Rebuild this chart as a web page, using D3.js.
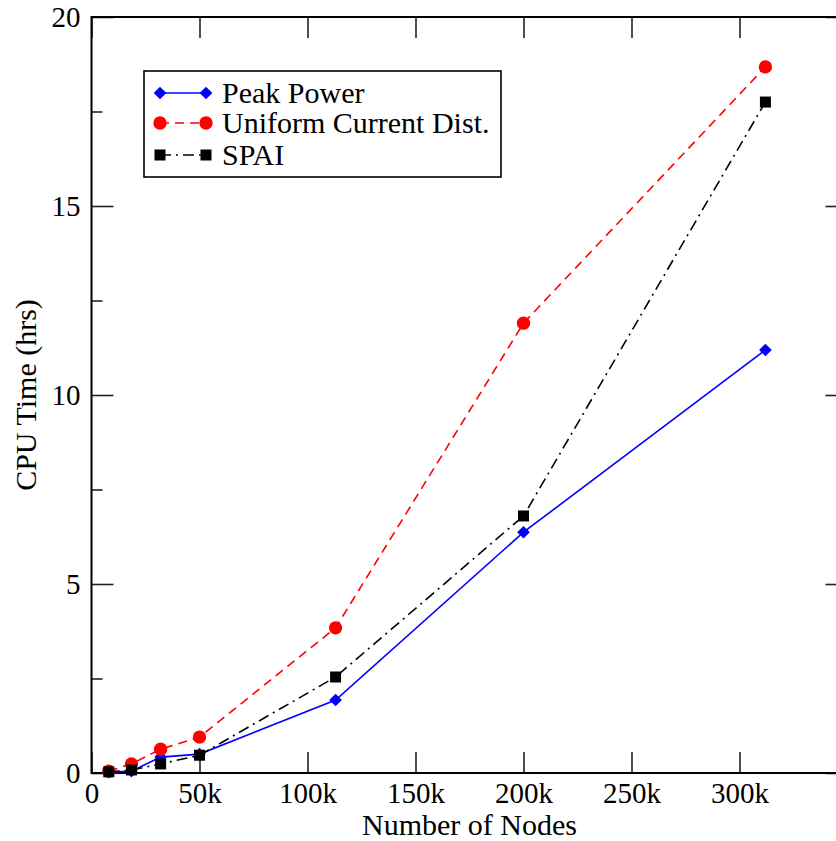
<!DOCTYPE html>
<html>
<head>
<script src="https://cdn.jsdelivr.net/npm/d3@7"></script>
</head>
<body style="margin:0">
<svg id="chart" width="836" height="841"></svg>
<script>
// data
var nodes = [8000, 18500, 32000, 50000, 113000, 200000, 312000];
var peakPower = [0.02, 0.05, 0.42, 0.50, 1.93, 6.37, 11.19];
var uniformCurrent = [0.05, 0.24, 0.63, 0.95, 3.84, 11.9, 18.68];
var spai = [0.03, 0.08, 0.24, 0.47, 2.54, 6.80, 17.75];

var xTicks = [0, 50000, 100000, 150000, 200000, 250000, 300000];
var yTicks = [0, 5, 10, 15, 20];
var yMinorTicks = [2.5, 7.5, 12.5, 17.5];
var seriesNames = ["Peak Power", "Uniform Current Dist.", "SPAI"];

var svg = d3.select("#chart");

// plot box: 0..350k across, 0..20 up (right edge falls just outside the window)
var x = d3.scaleLinear().domain([0, 350000]).range([91.5, 847.5]);
var y = d3.scaleLinear().domain([0, 20]).range([773, 17]);

var kfmt = function (d) { return d === 0 ? "0" : (d / 1000) + "k"; };
var noDomain = function (g) { g.select(".domain").remove(); };

// ticks pointing inward on all four sides
svg.append("g").attr("transform", "translate(0," + y(0) + ")")
  .call(d3.axisBottom(x).tickValues(xTicks).tickFormat(kfmt).tickSize(-21).tickPadding(9))
  .call(noDomain);
svg.append("g").attr("transform", "translate(0," + y(20) + ")")
  .call(d3.axisTop(x).tickValues(xTicks).tickFormat("").tickSize(-21))
  .call(noDomain);
svg.append("g").attr("transform", "translate(" + x(0) + ",0)")
  .call(d3.axisLeft(y).tickValues(yTicks).tickSize(-22).tickPadding(11))
  .call(noDomain);
svg.append("g").attr("transform", "translate(" + x(0) + ",0)")
  .call(d3.axisLeft(y).tickValues(yMinorTicks).tickFormat("").tickSize(-11))
  .call(noDomain);
svg.append("g").attr("transform", "translate(" + x(350000) + ",0)")
  .call(d3.axisRight(y).tickValues(yTicks).tickFormat("").tickSize(-22))
  .call(noDomain);
svg.append("g").attr("transform", "translate(" + x(350000) + ",0)")
  .call(d3.axisRight(y).tickValues(yMinorTicks).tickFormat("").tickSize(-11))
  .call(noDomain);

svg.selectAll(".tick line").attr("stroke", "#222").attr("stroke-width", 1.6);
svg.selectAll(".tick text").style("font-size", "29px");

// frame
svg.append("rect")
  .attr("x", x(0)).attr("y", y(20))
  .attr("width", x(350000) - x(0)).attr("height", y(0) - y(20))
  .attr("fill", "none").attr("stroke", "#000").attr("stroke-width", 2);

// axis titles
svg.append("text").attr("class", "title").attr("x", (x(0) + x(350000)) / 2).attr("y", 835)
  .attr("text-anchor", "middle").text("Number of Nodes");
svg.append("text").attr("class", "title")
  .attr("transform", "translate(36," + ((y(0) + y(20)) / 2) + ") rotate(-90)")
  .attr("text-anchor", "middle").text("CPU Time (hrs)");

// rotated square for the Peak Power marker
var diamond = {
  draw: function (ctx, size) {
    var r = Math.sqrt(size / 2);
    ctx.moveTo(0, -r); ctx.lineTo(r, 0); ctx.lineTo(0, r); ctx.lineTo(-r, 0); ctx.closePath();
  }
};

var series = [
  { name: seriesNames[0], values: peakPower, color: "#0000ff", dash: null, marker: diamond, size: 80 },
  { name: seriesNames[1], values: uniformCurrent, color: "#ff0000", dash: "9,6", marker: d3.symbolCircle, size: 140 },
  { name: seriesNames[2], values: spai, color: "#000000", dash: "11,5,2,5", marker: d3.symbolSquare, size: 121 }
];

var line = d3.line().x(function (d) { return x(d[0]); }).y(function (d) { return y(d[1]); });

series.forEach(function (s) {
  var pts = nodes.map(function (n, i) { return [n, s.values[i]]; });
  svg.append("path").datum(pts)
    .attr("d", line).attr("fill", "none")
    .attr("stroke", s.color).attr("stroke-width", 1.6)
    .attr("stroke-dasharray", s.dash);
  svg.append("g").selectAll("path").data(pts).join("path")
    .attr("transform", function (d) { return "translate(" + x(d[0]) + "," + y(d[1]) + ")"; })
    .attr("d", d3.symbol().type(s.marker).size(s.size))
    .attr("fill", s.color);
});

// legend
var legend = svg.append("g");
legend.append("rect").attr("x", 144).attr("y", 71).attr("width", 357).attr("height", 106)
  .attr("fill", "#fff").attr("stroke", "#000").attr("stroke-width", 1.6);
var rowY = [93, 123, 155];
series.forEach(function (s, i) {
  var ly = rowY[i];
  legend.append("line").attr("x1", 160).attr("x2", 206).attr("y1", ly).attr("y2", ly)
    .attr("stroke", s.color).attr("stroke-width", 1.6).attr("stroke-dasharray", s.dash);
  [160, 206].forEach(function (mx) {
    legend.append("path").attr("transform", "translate(" + mx + "," + ly + ")")
      .attr("d", d3.symbol().type(s.marker).size(s.size)).attr("fill", s.color);
  });
  legend.append("text").attr("class", "title").attr("x", 222).attr("y", ly + 10).text(s.name);
});

// all text in a Times-like face; titles and legend a touch larger than tick labels
svg.selectAll("text")
  .style("font-family", "'Liberation Serif'")
  .style("fill", "#000");
svg.selectAll("text.title").style("font-size", "30px");
</script>
</body>
</html>
